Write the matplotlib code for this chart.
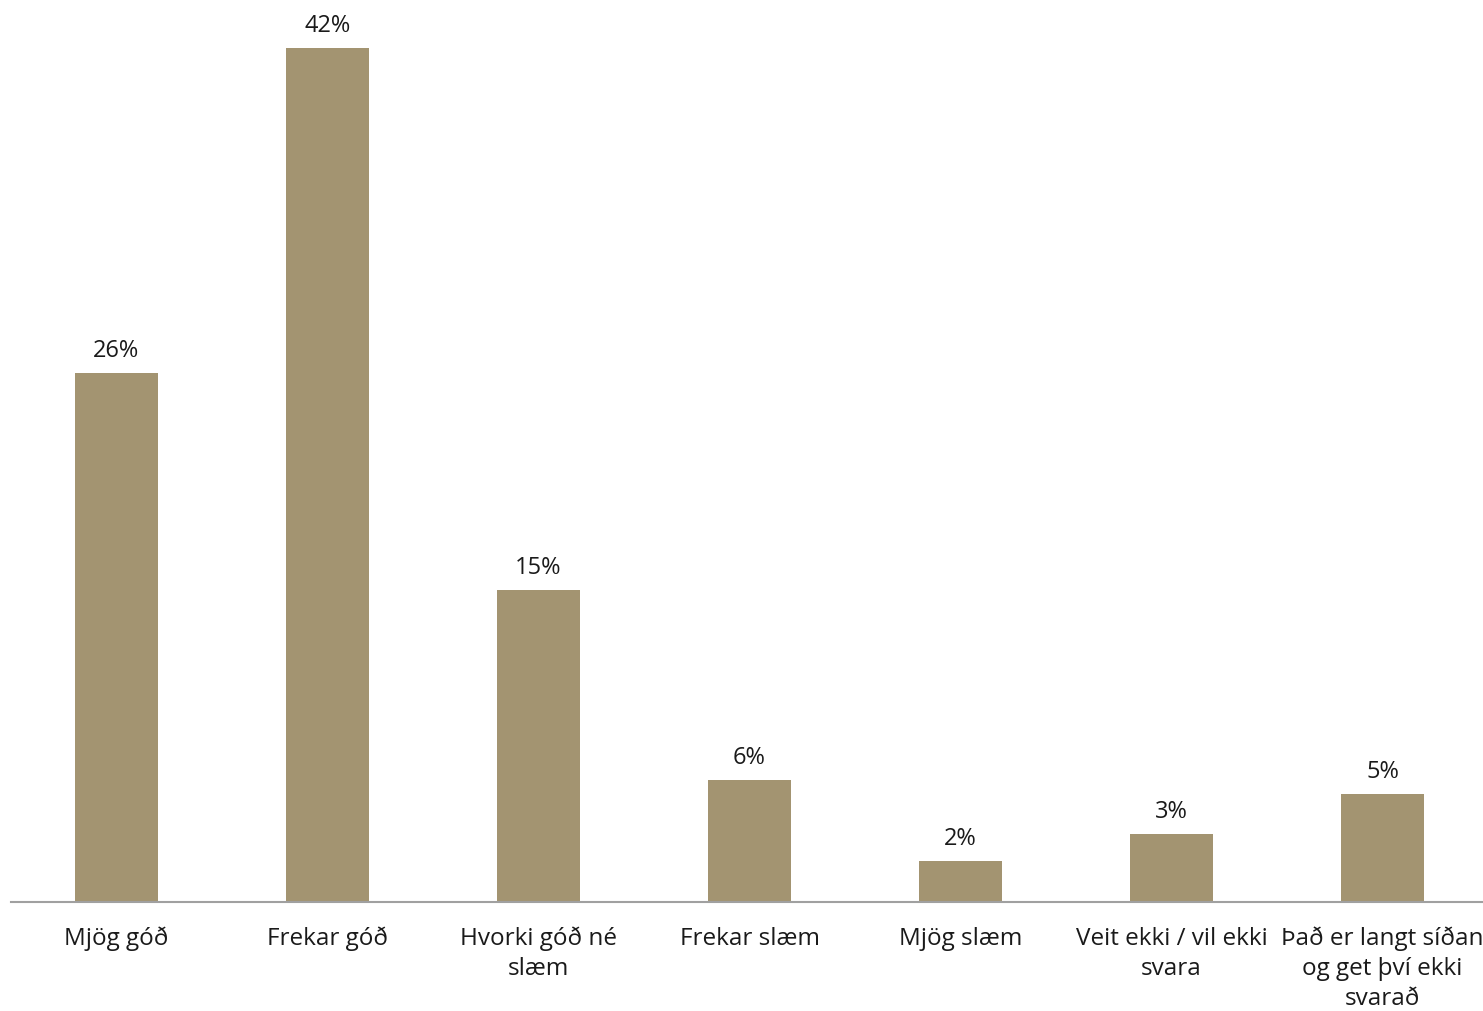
import matplotlib
matplotlib.use("Agg")
import matplotlib.pyplot as plt

# === Data ===
categories = [
    "Mjög góð",
    "Frekar góð",
    "Hvorki góð né\nslæm",
    "Frekar slæm",
    "Mjög slæm",
    "Veit ekki / vil ekki\nsvara",
    "Það er langt síðan\nog get því ekki\nsvarað",
]
values = [26.0, 42.0, 15.35, 6.0, 2.0, 3.35, 5.3]
labels = ["26%", "42%", "15%", "6%", "2%", "3%", "5%"]

bar_color = "#a39471"
plt.rcParams["font.family"] = ["Open Sans", "DejaVu Sans"]

# === Plot ===
fig = plt.figure(figsize=(14.83, 10.12), dpi=100)
ax = fig.add_axes([11 / 1483, 109 / 1012, 1477 / 1483, 894.6 / 1012])

x = range(len(categories))
bars = ax.bar(x, values, width=0.395, color=bar_color)

for b, lab in zip(bars, labels):
    ax.annotate(lab, (b.get_x() + b.get_width() / 2, b.get_height()),
                xytext=(0, 8), textcoords="offset points",
                ha="center", va="bottom", fontsize=17, color="#1a1a1a")

ax.set_xlim(-0.5, len(categories) - 0.5)
ax.set_ylim(0, 44)
ax.set_xticks(list(x))
ax.set_xticklabels(categories, fontsize=17.5, color="#1a1a1a", linespacing=1.34)
ax.tick_params(axis="x", length=0, pad=17)
ax.set_yticks([])
for s in ["top", "right", "left"]:
    ax.spines[s].set_visible(False)
ax.spines["bottom"].set_color("#a0a0a0")
ax.spines["bottom"].set_linewidth(1.5)

fig.savefig("out.png", dpi=100)
